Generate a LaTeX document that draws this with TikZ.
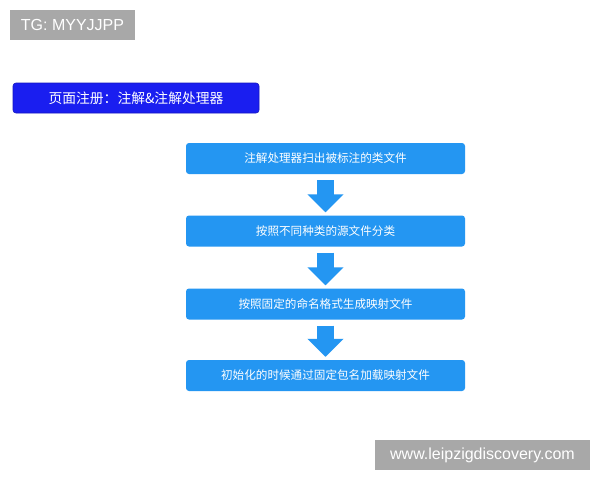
\documentclass[tikz,border=0pt]{standalone}
\usepackage{fontspec}
\setmainfont{Liberation Sans}
\newfontfamily\cjk{Noto Sans CJK SC}
\usetikzlibrary{arrows.meta}
\definecolor{stepblue}{RGB}{36,150,242}
\definecolor{titleblue}{RGB}{26,30,240}
\definecolor{markgray}{RGB}{168,168,168}
\tikzset{
  stepbox/.style={fill=stepblue, rounded corners=3pt, minimum width=279pt, minimum height=31pt, inner sep=0pt, text=white, font=\cjk\fontsize{11.6}{13}\selectfont},
  titlebox/.style={fill=titleblue, draw=titleblue!80!black, line width=0.6pt, rounded corners=3pt, minimum width=246pt, minimum height=30pt, inner sep=0pt, text=white, font=\cjk\fontsize{13.8}{15}\selectfont},
  markbox/.style={fill=markgray, inner sep=0pt, text=white, font=\fontsize{16}{18}\selectfont},
  fatarrow/.style={draw=stepblue, line width=17pt, -{Triangle[length=18pt, width=35pt]}, shorten <=6pt, shorten >=3pt}
}
\begin{document}
\begin{tikzpicture}[x=1pt, y=-1pt]
\useasboundingbox[fill=white] (0,0) rectangle (600,480);
\node[markbox, minimum width=125pt, minimum height=30pt] (tg) at (72.5,25) {TG: MYYJJPP};
\node[titlebox] (title) at (136,98) {页面注册：注解\&注解处理器};
\node[stepbox] (s1) at (325.5,158.5) {注解处理器扫出被标注的类文件};
\node[stepbox] (s2) at (325.5,231) {按照不同种类的源文件分类};
\node[stepbox] (s3) at (325.5,304) {按照固定的命名格式生成映射文件};
\node[stepbox] (s4) at (325.5,375.5) {初始化的时候通过固定包名加载映射文件};
\draw[fatarrow] (s1.south) -- (s2.north);
\draw[fatarrow] (s2.south) -- (s3.north);
\draw[fatarrow] (s3.south) -- (s4.north);
\node[markbox, minimum width=215pt, minimum height=30pt] (www) at (482.5,455) {www.leipzigdiscovery.com};
\end{tikzpicture}
\end{document}
